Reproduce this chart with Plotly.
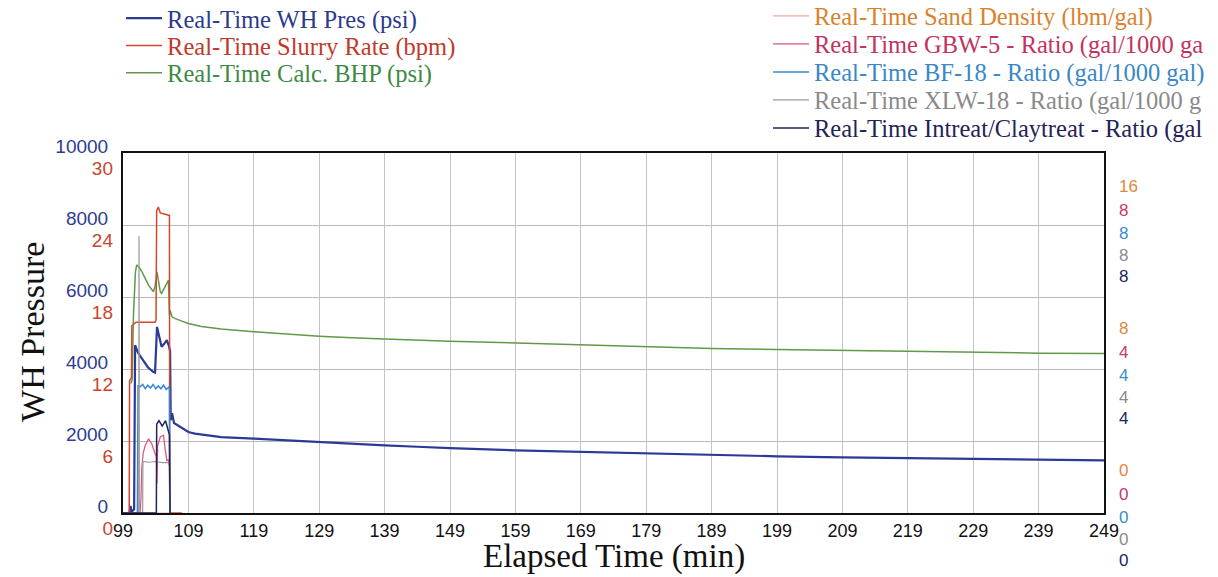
import plotly.graph_objects as go

# ---------------- data ----------------
wh_t = [99, 100.0, 100.15, 100.3, 100.7, 100.85, 101.3, 102.0, 102.8, 103.6, 103.9, 104.2, 104.5,
        104.9, 105.3, 105.7, 106.0, 106.2, 106.3, 106.5, 106.8, 107.5, 108, 109, 110, 112, 114,
        119, 124, 129, 134, 139, 144, 149, 159, 169, 179, 189, 199, 209, 219, 229, 239, 249]
wh_psi = [0, 0, 200, 30, 100, 4660, 4450, 4250, 4050, 3920, 3900, 5170, 4900,
          4620, 4700, 4800, 4650, 4500, 2575, 2770, 2500, 2420, 2350, 2251, 2206, 2150, 2110,
          2067, 2015, 1972, 1925, 1880, 1840, 1800, 1742, 1695, 1650, 1603, 1575, 1547, 1528, 1500, 1472, 1464]

rate_t = [99, 99.95, 100.0, 100.3, 100.35, 101.0, 103.9, 104.05, 104.15, 104.4, 104.7, 105.5, 106.1, 106.15, 108]
rate_bpm = [0, 0, 11, 11.3, 15.6, 15.9, 15.9, 16.1, 25.2, 25.5, 25.0, 24.9, 24.8, 0, 0]

bhp_t = [100.2, 100.4, 100.6, 100.9, 101.1, 101.5, 101.9, 102.5, 102.9, 103.65, 103.9, 104.2, 104.5,
         104.7, 104.9, 105.3, 105.7, 105.95, 106.1, 106.2, 106.5, 107, 108, 109, 111, 114, 119, 124,
         129, 134, 139, 149, 159, 169, 179, 189, 199, 209, 219, 229, 239, 249]
bhp_psi = [3600, 3700, 5500, 6700, 6890, 6820, 6700, 6480, 6330, 6145, 6300, 6700, 6400,
           6145, 6100, 6250, 6380, 6470, 5497, 5636, 5450, 5400, 5330, 5266, 5180, 5110, 5033, 4970,
           4913, 4870, 4830, 4774, 4718, 4663, 4626, 4570, 4542, 4515, 4487, 4459, 4440, 4431]

sand_t = [99, 106.2]
sand_ppg = [0, 0]

gbw_t = [99, 101.6, 101.75, 101.87, 102.1, 102.4, 102.9, 103.4, 103.9, 104.1, 104.2, 104.3, 104.7,
         105.2, 105.4, 105.7, 105.9, 106.1, 106.15]
gbw_ratio = [0, 0, 0.4, 1.29, 1.7, 1.9, 2.09, 1.95, 1.67, 1.6, 0.83, 1.9, 2.14,
             2.19, 1.86, 1.48, 1.5, 1.3, 0]

bf_t = [99, 101.2, 101.3, 101.6, 102.0, 102.4, 102.8, 103.2, 103.6, 104.0, 104.4, 104.8, 105.2,
        105.6, 106.0, 106.1, 106.15]
bf_ratio = [0, 0, 3.6, 3.55, 3.62, 3.5, 3.6, 3.52, 3.62, 3.5, 3.58, 3.5, 3.6,
            3.48, 3.55, 3.5, 0]

xlw_t = [99, 101.4, 101.45, 101.5, 102.0, 102.05, 103.0, 104.0, 105.0, 106.1, 106.15]
xlw_ratio = [0, 0, 7.8, 0, 0, 1.45, 1.43, 1.45, 1.42, 1.42, 0]

int_t = [99, 104.1, 104.15, 104.5, 105.0, 105.5, 106.1, 106.2]
int_ratio = [0, 0, 2.5, 2.6, 2.45, 2.6, 2.2, 0]

x_ticks = list(range(99, 250, 10))
wh_ticks = [0, 2000, 4000, 6000, 8000, 10000]
wh_ticktext = ["0", "2000", "4000", "6000", "8000", "10000"]
rate_ticks = [0, 6, 12, 18, 24, 30]
sand_ticks = [0, 8, 16]
ratio_ticks = [0, 4, 8]

# ---------------- styling ----------------
SERIF = "Liberation Serif"
SANS = "Liberation Sans"


def nm(text, color):
    return f"<span style='color:{color}'>{text}</span>"


fig = go.Figure()

# draw order (back to front); every legend entry has its own legend box
fig.add_trace(go.Scatter(x=sand_t, y=sand_ppg, mode="lines", yaxis="y3", legend="legend4",
                         line=dict(color="#f0a8a0", width=1.2),
                         name=nm("Real-Time Sand Density (lbm/gal)", "#d9822b")))
fig.add_trace(go.Scatter(x=xlw_t, y=xlw_ratio, mode="lines", yaxis="y6", legend="legend7",
                         line=dict(color="#9a9a9a", width=1.2),
                         name=nm("Real-Time XLW-18 - Ratio (gal/1000 g", "#8a8a8a")))
fig.add_trace(go.Scatter(x=gbw_t, y=gbw_ratio, mode="lines", yaxis="y4", legend="legend5",
                         line=dict(color="#e0507a", width=1.2),
                         name=nm("Real-Time GBW-5 - Ratio (gal/1000 ga", "#c2335f")))
fig.add_trace(go.Scatter(x=bf_t, y=bf_ratio, mode="lines", yaxis="y5", legend="legend6",
                         line=dict(color="#3a86d4", width=1.5),
                         name=nm("Real-Time BF-18 - Ratio (gal/1000 gal)", "#3a87c5")))
fig.add_trace(go.Scatter(x=int_t, y=int_ratio, mode="lines", yaxis="y7", legend="legend8",
                         line=dict(color="#1f2360", width=1.5),
                         name=nm("Real-Time Intreat/Claytreat - Ratio (gal", "#1f2358")))
fig.add_trace(go.Scatter(x=bhp_t, y=bhp_psi, mode="lines", yaxis="y", legend="legend3",
                         line=dict(color="#5f9a4a", width=1.5),
                         name=nm("Real-Time Calc. BHP (psi)", "#3d8a45")))
fig.add_trace(go.Scatter(x=rate_t, y=rate_bpm, mode="lines", yaxis="y2", legend="legend2",
                         line=dict(color="#d5452b", width=1.5),
                         name=nm("Real-Time Slurry Rate (bpm)", "#c0392b")))
fig.add_trace(go.Scatter(x=wh_t, y=wh_psi, mode="lines", yaxis="y", legend="legend",
                         line=dict(color="#2b3a98", width=2.2),
                         name=nm("Real-Time WH Pres (psi)", "#2c3a8c")))


def ax_right(rng, ticks, color, shift):
    return dict(overlaying="y", side="right", anchor="x", range=rng, tickvals=ticks,
                tickfont=dict(family=SANS, size=17, color=color), showgrid=False,
                zeroline=False, showline=False, ticks="", ticklabelshift=shift,
                ticklabelstandoff=14, automargin=False)


def leg(x, ypx):
    return dict(x=x, y=(513 - ypx) / 360.0, xanchor="left", yanchor="middle",
                bgcolor="rgba(0,0,0,0)", borderwidth=0, itemwidth=36,
                font=dict(family=SERIF, size=24.5, color="#333"),
                itemclick=False, itemdoubleclick=False)


LX1 = -0.002
LX2 = 0.6575

fig.update_layout(
    template="none",
    width=1218, height=577,
    margin=dict(l=123, r=114, t=153, b=64, autoexpand=False),
    paper_bgcolor="white", plot_bgcolor="white",
    showlegend=True,
    legend=leg(LX1, 18.2),
    legend2=leg(LX1, 45.5),
    legend3=leg(LX1, 72.8),
    legend4=leg(LX2, 16),
    legend5=leg(LX2, 44),
    legend6=leg(LX2, 72),
    legend7=leg(LX2, 100),
    legend8=leg(LX2, 128),
    xaxis=dict(range=[99, 249], tickvals=x_ticks, tickfont=dict(family=SANS, size=18, color="#111"),
               showgrid=True, gridcolor="#c4c4c4", gridwidth=1, zeroline=False,
               showline=True, linecolor="#111", linewidth=2, mirror=True, ticks="",
               ticklabelstandoff=0, automargin=False),
    yaxis=dict(range=[0, 10000], tickvals=wh_ticks, ticktext=wh_ticktext,
               tickfont=dict(family=SANS, size=19, color="#2e3b92"),
               showgrid=True, gridcolor="#b8b8b8", gridwidth=1, zeroline=False,
               showline=True, linecolor="#111", linewidth=2, mirror=True, ticks="",
               ticklabelshift=-7, ticklabelstandoff=9, automargin=False),
    yaxis2=dict(overlaying="y", side="left", anchor="x", range=[0, 30], tickvals=rate_ticks,
                tickfont=dict(family=SANS, size=19, color="#c8452e"), showgrid=False,
                zeroline=False, showline=False, ticks="", ticklabelshift=15,
                ticklabelstandoff=9, automargin=False),
    yaxis3=ax_right([0, 20.28], sand_ticks, "#e0883a", -43),
    yaxis4=ax_right([0, 10.14], ratio_ticks, "#c8386a", -19),
    yaxis5=ax_right([0, 10.14], ratio_ticks, "#3a8ccc", 4),
    yaxis6=ax_right([0, 10.14], ratio_ticks, "#8a8a8a", 26),
    yaxis7=ax_right([0, 10.14], ratio_ticks, "#23235e", 47),
    annotations=[
        dict(text="Elapsed Time (min)", xref="paper", yref="paper", x=0.5, y=-0.121,
             xanchor="center", yanchor="middle", showarrow=False,
             font=dict(family=SERIF, size=33, color="#111")),
        dict(text="WH Pressure", xref="paper", yref="paper", x=-0.0917, y=0.503,
             xanchor="center", yanchor="middle", showarrow=False, textangle=-90,
             font=dict(family=SERIF, size=34, color="#111")),
    ],
)

fig.write_html("out.html")
